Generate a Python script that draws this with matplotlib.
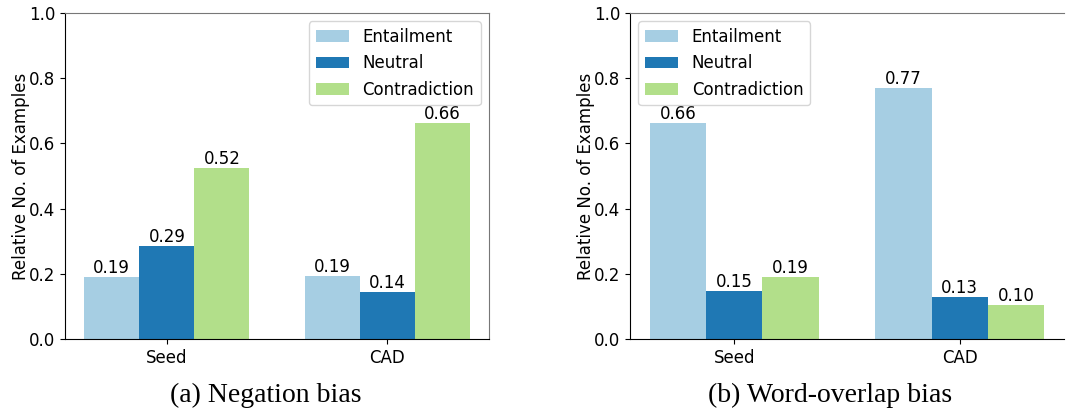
import numpy as np
import matplotlib
matplotlib.use('Agg')
import matplotlib.pyplot as plt

# data
groups = ['Seed', 'CAD']
classes = ['Entailment', 'Neutral', 'Contradiction']
colors = ['#a6cee3', '#1f78b4', '#b2df8a']

negation = {
    'Entailment': [0.191, 0.194],
    'Neutral': [0.286, 0.144],
    'Contradiction': [0.524, 0.664],
}
overlap = {
    'Entailment': [0.662, 0.769],
    'Neutral': [0.148, 0.130],
    'Contradiction': [0.191, 0.104],
}
captions = ['(a) Negation bias', '(b) Word-overlap bias']
legend_loc = ['upper right', 'upper left']

plt.rcParams['font.size'] = 12

W, H = 1067, 416
fig = plt.figure(figsize=(W / 100, H / 100), dpi=100)

# axes boxes in pixels (left, top, width, height)
boxes = [(65, 13, 424, 326), (630, 13, 434, 326)]
caption_x = [266, 830]
width = 0.25
x = np.arange(len(groups))

for i, (data, box) in enumerate(zip([negation, overlap], boxes)):
    l, t, w, h = box
    ax = fig.add_axes([l / W, 1 - (t + h) / H, w / W, h / H])
    for j, cls in enumerate(classes):
        vals = data[cls]
        bars = ax.bar(x + (j - 1) * width, vals, width, color=colors[j], label=cls)
        for b, v in zip(bars, vals):
            ax.text(b.get_x() + b.get_width() / 2, v, f'{v:.2f}',
                    ha='center', va='bottom', fontsize=12)
    ax.set_ylim(0, 1.0)
    ax.set_xlim(-0.4625, 1.4625)
    ax.set_xticks(x)
    ax.set_xticklabels(groups)
    ax.set_ylabel('Relative No. of Examples', fontsize=12, labelpad=-1)
    ax.legend(loc=legend_loc[i], fontsize=12)
    ax.spines['top'].set_color('#777777')
    ax.spines['right'].set_color('#777777')
    if i == 1:
        # right edge of this panel is cut off in the reference
        ax.spines['right'].set_visible(False)
    fig.text(caption_x[i] / W, 1 - 395 / H, captions[i],
             ha='center', va='center', fontsize=20, family='Liberation Serif')

fig.savefig('out.png', dpi=100, facecolor='white')
